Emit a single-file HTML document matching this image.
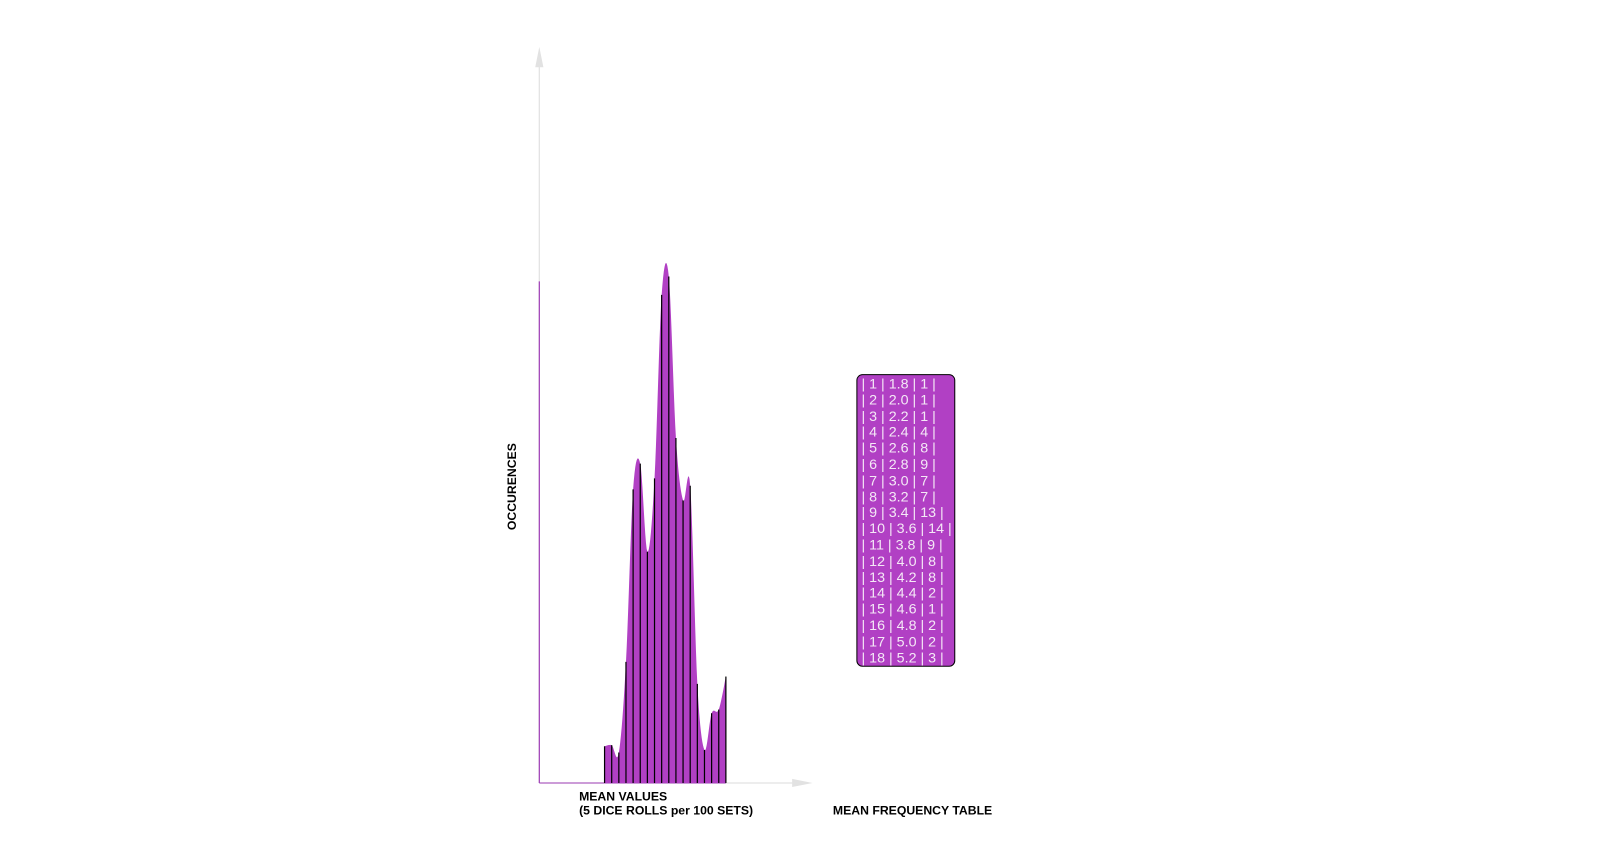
<!DOCTYPE html>
<html><head><meta charset="utf-8"><style>
html,body{margin:0;padding:0;background:#fff;width:1598px;height:839px;overflow:hidden;font-family:"Liberation Sans",sans-serif}
#wrap{position:absolute;left:0;top:0;width:1598px;height:839px;transform:scale(1.0195);transform-origin:0 0}
.lbl{position:absolute;font-weight:bold;font-size:12px;color:#000;line-height:14px;white-space:nowrap}
#tbl{position:absolute;left:840px;top:367px;width:97px;height:287px;background:#b140c4;border:1px solid #000;border-radius:6px;box-sizing:border-box;color:#f4e8f6;font-size:14px;line-height:15.8px;padding:1px 0 0 4px;white-space:pre;overflow:hidden}
</style></head><body>
<div id="wrap">
<svg id="chart" width="1598" height="839" style="position:absolute;left:0;top:0">
<line x1="529" y1="64" x2="529" y2="768" stroke="#e2e2e2" stroke-width="1.2"/>
<polygon points="529,46 525,66 533,66" fill="#e2e2e2"/>
<line x1="529" y1="768" x2="780" y2="768" stroke="#e2e2e2" stroke-width="1.2"/>
<polygon points="797,768 777,764 777,772" fill="#e2e2e2"/>
<line x1="529" y1="276" x2="529" y2="768" stroke="#a040b8" stroke-width="1.2"/>
<line x1="529" y1="768" x2="712" y2="768" stroke="#a040b8" stroke-width="1"/>
<g id="marks"></g>
</svg>
<div class="lbl" style="left:462px;top:473px;width:80px;text-align:center;transform:rotate(-90deg)">OCCURENCES</div>
<div class="lbl" style="left:568px;top:774px">MEAN VALUES<br>(5 DICE ROLLS per 100 SETS)</div>
<div class="lbl" style="left:817px;top:788px">MEAN FREQUENCY TABLE</div>
<div id="tbl"></div>
</div>
<script>
const categories=[1,2,3,4,5,6,7,8,9,10,11,12,13,14,15,16,17,18];
const means=["1.8","2.0","2.2","2.4","2.6","2.8","3.0","3.2","3.4","3.6","3.8","4.0","4.2","4.4","4.6","4.8","5.0","5.2"];
const counts=[1,1,1,4,8,9,7,7,13,14,9,8,8,2,1,2,2,3];
const curveValues=[1.0,1.03,0.83,3.3,8.0,8.7,6.3,8.3,13.3,13.8,9.4,7.7,8.1,2.7,0.9,1.9,2.0,2.9];
const X0=593,DX=7,BASE=768,UNIT=36;
const xs=i=>X0+i*DX, ys=v=>BASE-v*UNIT;
const pts=curveValues.map((v,i)=>[xs(i),ys(v)]);
function sample(){const out=[];for(let i=0;i<pts.length-1;i++){const p0=pts[Math.max(0,i-1)],p1=pts[i],p2=pts[i+1],p3=pts[Math.min(pts.length-1,i+2)];
for(let t=0;t<1;t+=0.1){const t2=t*t,t3=t2*t;const f=(a,b,c,d)=>0.5*((2*b)+(-a+c)*t+(2*a-5*b+4*c-d)*t2+(-a+3*b-3*c+d)*t3);
out.push([f(p0[0],p1[0],p2[0],p3[0]),Math.min(BASE,f(p0[1],p1[1],p2[1],p3[1]))]);}}out.push(pts[pts.length-1]);return out;}
const s=sample();
const g=document.getElementById('marks');
const NS='http://www.w3.org/2000/svg';
const area=document.createElementNS(NS,'path');
area.setAttribute('d','M'+xs(0)+','+BASE+' L'+s.map(p=>p[0].toFixed(1)+','+p[1].toFixed(1)).join(' L')+' L'+xs(curveValues.length-1)+','+BASE+' Z');
area.setAttribute('fill','#b140c4');


g.appendChild(area);
curveValues.forEach((v,i)=>{const l=document.createElementNS(NS,'line');
l.setAttribute('x1',xs(i));l.setAttribute('x2',xs(i));l.setAttribute('y1',BASE);l.setAttribute('y2',ys(v));
l.setAttribute('stroke','#000');l.setAttribute('stroke-width','1.2');


g.appendChild(l);});
const tbl=document.getElementById('tbl');
tbl.textContent=categories.map((c,i)=>'| '+c+' | '+means[i]+' | '+counts[i]+' |').join('\n');
</script>
</body></html>
